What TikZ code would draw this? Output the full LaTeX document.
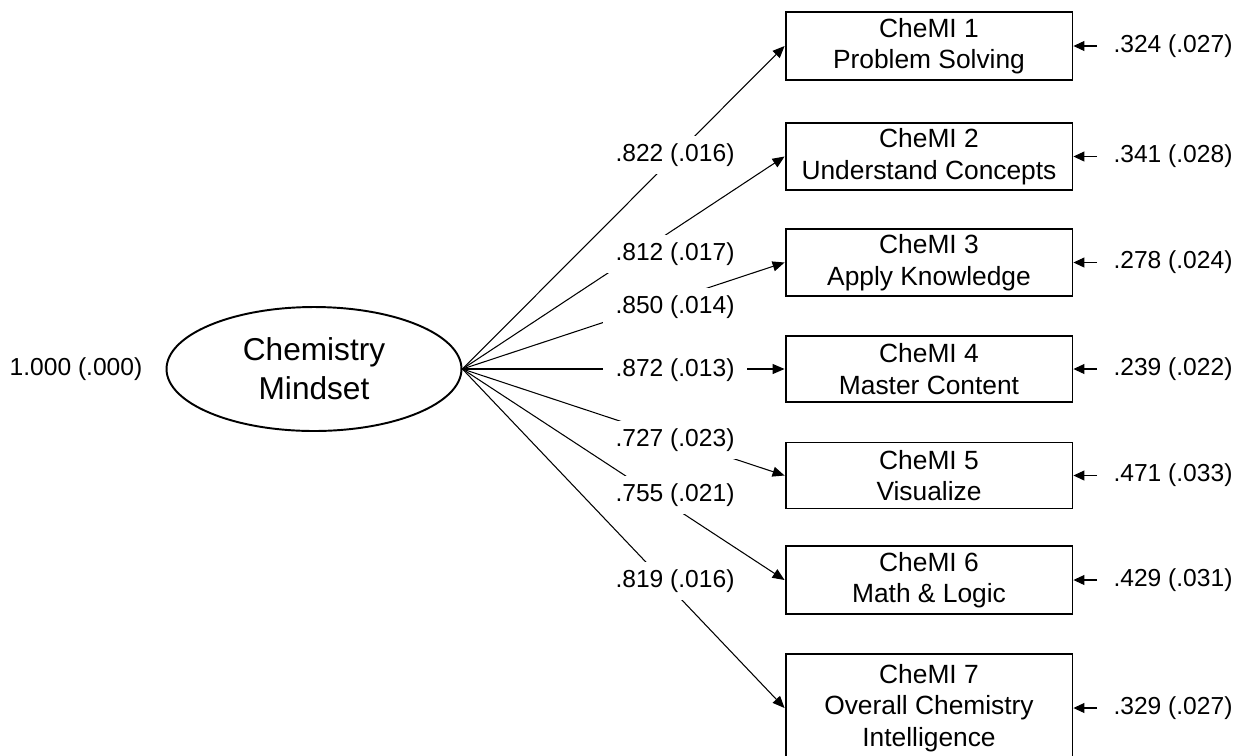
\documentclass[tikz,border=0pt]{standalone}
\usepackage{fontspec}
\setmainfont{Liberation Sans}
\usetikzlibrary{shapes.geometric,arrows.meta}

\tikzset{
  item/.style={draw, line width=1.1pt, minimum width=5.74cm, minimum height=1.32cm,
    align=center, font=\fontsize{15}{18}\selectfont},
  factor/.style={draw, ellipse, line width=1.1pt, minimum width=5.9cm, minimum height=2.48cm,
    inner sep=0pt, align=center, font=\fontsize{18}{22}\selectfont},
  load/.style={fill=white, inner xsep=0.25cm, inner ysep=0.15cm, font=\fontsize{14}{17}\selectfont},
  resid/.style={inner xsep=0.32cm, font=\fontsize{14}{17}\selectfont},
  path/.style={line width=0.6pt, -{Triangle[length=0.24cm,width=0.2cm]}},
  errpath/.style={line width=0.6pt, -{Triangle[length=0.22cm,width=0.2cm]}}
}

\begin{document}
\begin{tikzpicture}[x=0.02cm, y=-0.02cm]
\useasboundingbox (0,0) rectangle (1234,755);

\node [factor] (mind) at (314,369) {Chemistry\\Mindset};
\node [font=\fontsize{14}{17}\selectfont] (var) at (76,369) {1.000 (.000)};

\node [item] (c1) at (929,46) {CheMI 1\\Problem Solving};
\node [item] (c2) at (929,156.5) {CheMI 2\\Understand Concepts};
\node [item] (c3) at (929,262.5) {CheMI 3\\Apply Knowledge};
\node [item] (c4) at (929,369) {CheMI 4\\Master Content};
\node [item] (c5) at (929,475.5) {CheMI 5\\Visualize};
\node [item] (c6) at (929,580) {CheMI 6\\Math \& Logic};
\node [item, minimum height=2.16cm] (c7) at (929,708) {CheMI 7\\Overall Chemistry\\Intelligence};

% loadings
\draw[path] (mind.east) to (c1.west);
\draw[path] (mind.east) to (c2.west);
\draw[path] (mind.east) to (c3.west);
\draw[path] (mind.east) to (c4.west);
\draw[path] (mind.east) to (c5.west);
\draw[path] (mind.east) to (c6.west);
\draw[path] (mind.east) to (c7.west);

\node [load] (l1) at (675,155) {.822 (.016)};
\node [load] (l2) at (675,254) {.812 (.017)};
\node [load] (l3) at (675,307) {.850 (.014)};
\node [load] (l4) at (675,370) {.872 (.013)};
\node [load] (l5) at (675,440) {.727 (.023)};
\node [load] (l6) at (675,495) {.755 (.021)};
\node [load] (l7) at (675,581) {.819 (.016)};

% residuals
\node [resid] (e1) at (1173,46) {.324 (.027)};
\node [resid] (e2) at (1173,156.5) {.341 (.028)};
\node [resid] (e3) at (1173,262.5) {.278 (.024)};
\node [resid] (e4) at (1173,369) {.239 (.022)};
\node [resid] (e5) at (1173,475.5) {.471 (.033)};
\node [resid] (e6) at (1173,580) {.429 (.031)};
\node [resid] (e7) at (1173,708) {.329 (.027)};

\draw[errpath] (e1) to (c1);
\draw[errpath] (e2) to (c2);
\draw[errpath] (e3) to (c3);
\draw[errpath] (e4) to (c4);
\draw[errpath] (e5) to (c5);
\draw[errpath] (e6) to (c6);
\draw[errpath] (e7) to (c7);
\end{tikzpicture}
\end{document}
